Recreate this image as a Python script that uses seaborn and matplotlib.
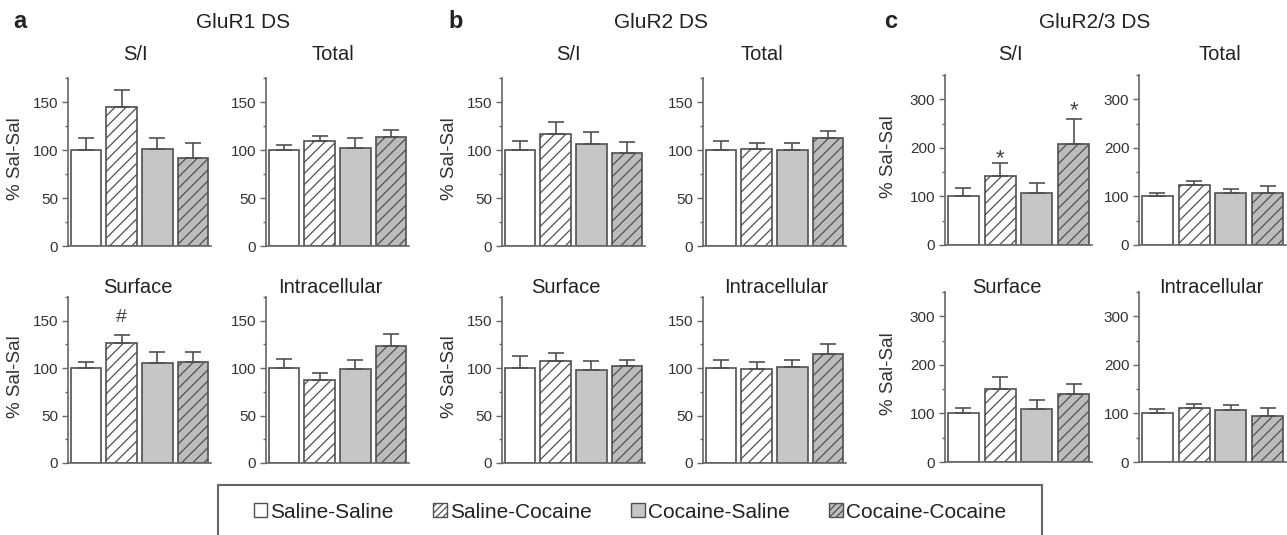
import numpy as np
import pandas as pd
import matplotlib.pyplot as plt
import matplotlib.patches as mpatches
from matplotlib.ticker import MultipleLocator
import seaborn as sns

groups = ["Saline-Saline", "Saline-Cocaine", "Cocaine-Saline", "Cocaine-Cocaine"]

# GluR1 DS
glur1_si = [100, 145, 101, 92]
glur1_si_err = [12, 18, 11, 15]
glur1_total = [100, 109, 102, 114]
glur1_total_err = [5, 6, 10, 7]
glur1_surface = [100, 126, 105, 106]
glur1_surface_err = [6, 9, 12, 11]
glur1_intra = [100, 88, 99, 123]
glur1_intra_err = [10, 7, 10, 13]

# GluR2 DS
glur2_si = [100, 117, 106, 97]
glur2_si_err = [9, 12, 13, 11]
glur2_total = [100, 101, 100, 112]
glur2_total_err = [9, 6, 7, 8]
glur2_surface = [100, 108, 98, 102]
glur2_surface_err = [13, 8, 10, 7]
glur2_intra = [100, 99, 101, 115]
glur2_intra_err = [9, 7, 8, 10]

# GluR2/3 DS
glur23_si = [100, 142, 107, 208]
glur23_si_err = [17, 26, 20, 52]
glur23_total = [100, 124, 108, 108]
glur23_total_err = [7, 7, 7, 14]
glur23_surface = [100, 151, 110, 139]
glur23_surface_err = [12, 24, 17, 22]
glur23_intra = [100, 112, 108, 95]
glur23_intra_err = [9, 7, 9, 16]

panel_letters = ["a", "b", "c"]
group_titles = ["GluR1 DS", "GluR2 DS", "GluR2/3 DS"]
sub_titles = ["S/I", "Total", "Surface", "Intracellular"]

# significance marks: (panel, subplot, bar, symbol, y value)
mark_panel = [0, 2, 2]
mark_sub = [2, 0, 0]
mark_bar = [1, 1, 3]
mark_text = ["#", "*", "*"]
mark_y = [156, 192, 290]

bar_colors = ["#ffffff", "#ffffff", "#c6c6c6", "#bcbcbc"]
bar_hatch = [None, "///", None, "///"]
edge = "#505050"

sns.set_style("ticks")
plt.rcParams["font.family"] = ["Liberation Sans", "DejaVu Sans"]
plt.rcParams["hatch.linewidth"] = 0.9
plt.rcParams["text.color"] = "#222222"

W, H = 1287, 535
fig = plt.figure(figsize=(W / 100, H / 100), dpi=100)


def px_axes(left, top, width, height):
    return fig.add_axes([left / W, 1 - (top + height) / H, width / W, height / H])


panel_data = [
    [(glur1_si, glur1_si_err), (glur1_total, glur1_total_err),
     (glur1_surface, glur1_surface_err), (glur1_intra, glur1_intra_err)],
    [(glur2_si, glur2_si_err), (glur2_total, glur2_total_err),
     (glur2_surface, glur2_surface_err), (glur2_intra, glur2_intra_err)],
    [(glur23_si, glur23_si_err), (glur23_total, glur23_total_err),
     (glur23_surface, glur23_surface_err), (glur23_intra, glur23_intra_err)],
]

# layout in pixels
col_left = [[68, 266], [502, 703], [945, 1139]]
col_width = [143, 143, 147]
row_top = [[78, 297], [78, 297], [75, 292]]
row_height = [[168, 166], [168, 166], [170, 170]]
title_x = [[135, 333, 138, 330], [568, 762, 566, 776], [1010, 1220, 1007, 1211]]
title_base = [60, 293]
letter_x = [13, 448, 884]
group_x = [243, 661, 1095]
ylabel_right = [24, 458, 897]

for p in range(3):
    fig.text(letter_x[p] / W, 1 - 28 / H, panel_letters[p], fontsize=17,
             fontweight="bold", va="baseline", ha="left")
    fig.text(group_x[p] / W, 1 - 28 / H, group_titles[p], fontsize=15,
             va="baseline", ha="center")
    ymax = 350 if p == 2 else 175
    for s in range(4):
        r, c = s // 2, s % 2
        ax = px_axes(col_left[p][c], row_top[p][r], col_width[p], row_height[p][r])
        means, errs = panel_data[p][s]
        df = pd.DataFrame({"group": groups, "value": means})
        sns.barplot(data=df, x="group", y="value", hue="group",
                    palette=bar_colors, saturation=1, legend=False,
                    width=0.85, edgecolor=edge, linewidth=1.2,
                    errorbar=None, ax=ax)
        for i, cont in enumerate(ax.containers):
            for bar in cont:
                if bar_hatch[i]:
                    bar.set_hatch(bar_hatch[i])
        ax.errorbar(np.arange(4), means, yerr=[np.zeros(4), errs], fmt="none",
                    ecolor=edge, elinewidth=1.2, capsize=6, capthick=1.2,
                    zorder=1)
        ax.set_xlim(-0.5, 3.5)
        ax.set_ylim(0, ymax)
        if p == 2:
            ax.yaxis.set_major_locator(MultipleLocator(100))
            ax.yaxis.set_minor_locator(MultipleLocator(50))
        else:
            ax.yaxis.set_major_locator(MultipleLocator(50))
            ax.yaxis.set_minor_locator(MultipleLocator(25))
        ax.set_xlabel("")
        ax.set_xticks([])
        ax.tick_params(axis="y", which="major", length=4, width=1,
                       color="#666666", labelsize=11, labelcolor="#333333",
                       pad=3)
        ax.tick_params(axis="y", which="minor", length=2.5, width=1,
                       color="#666666")
        sns.despine(ax=ax)
        for sp in ["left", "bottom"]:
            ax.spines[sp].set_color("#666666")
            ax.spines[sp].set_linewidth(1.2)
        if c == 0:
            ax.set_ylabel("% Sal-Sal", fontsize=13.5, color="#333333")
            ax.yaxis.set_label_coords(
                -(col_left[p][0] - ylabel_right[p]) / col_width[p], 0.52)
        else:
            ax.set_ylabel("")
        fig.text(title_x[p][s] / W, 1 - title_base[r] / H, sub_titles[s],
                 fontsize=14.5, ha="center", va="baseline")
        for k in range(len(mark_text)):
            if mark_panel[k] == p and mark_sub[k] == s:
                fs = 14 if mark_text[k] == "#" else 16
                off = -5 if mark_text[k] == "#" else -9
                ax.annotate(mark_text[k], (mark_bar[k], mark_y[k]),
                            xytext=(0, off), textcoords="offset points",
                            ha="center", va="baseline", fontsize=fs,
                            color="#444444")

# legend
handles = []
for i in range(4):
    handles.append(mpatches.Patch(facecolor=bar_colors[i], edgecolor=edge,
                                  hatch="/////" if bar_hatch[i] else None,
                                  linewidth=1.0, label=groups[i]))
fig.legend(handles=handles, loc="center", ncol=4,
           bbox_to_anchor=(630 / W, 1 - 512 / H), frameon=False,
           fontsize=15, handlelength=0.65, handleheight=0.65,
           handletextpad=0.15, columnspacing=1.9)
box = mpatches.Rectangle((218 / W, 1 - 550 / H), (1042 - 218) / W, 65 / H,
                         transform=fig.transFigure, fill=False,
                         edgecolor="#666666", linewidth=1.5)
fig.patches.append(box)

fig.savefig("out.png", dpi=100)
